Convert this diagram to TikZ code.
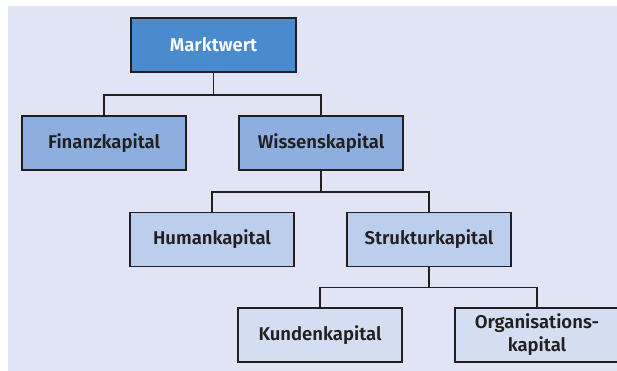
\documentclass[tikz,border=0pt]{standalone}
\usepackage{fontspec}
\setmainfont{Fira Sans}[BoldFont={Fira Sans SemiBold}]
\definecolor{bgpanel}{HTML}{E0E4F4}
\definecolor{lvlA}{HTML}{4A8BCD}
\definecolor{lvlB}{HTML}{8DAEDF}
\definecolor{lvlC}{HTML}{BBCEEC}
\definecolor{lvlD}{HTML}{D3DEF3}
\definecolor{ink}{HTML}{231F20}
\begin{document}
\begin{tikzpicture}[x=1pt,y=-1pt,
  box/.style={draw=ink, line width=1.8pt, minimum width=164pt, minimum height=54pt,
    inner sep=0pt, align=center, font=\fontsize{18.5}{23}\selectfont\bfseries, text=ink},
  conn/.style={draw=ink, line width=1.6pt}]
  \useasboundingbox (0,0) rectangle (617,371);
  \fill[bgpanel] (8,6) rectangle (617,371);
  \begin{scope}
  \clip (0,0) rectangle (617,371);
  % hierarchy of capital components
  \node[box, fill=lvlA, text=white, minimum width=165pt] (mw) at (213.5,45) {Marktwert};
  \node[box, fill=lvlB] (fk) at (104,143) {Finanzkapital};
  \node[box, fill=lvlB] (wk) at (321,143) {Wissenskapital};
  \node[box, fill=lvlC] (hk) at (212,239.5) {Humankapital};
  \node[box, fill=lvlC] (sk) at (429,239.5) {Strukturkapital};
  \node[box, fill=lvlD] (kk) at (320,335) {Kundenkapital};
  \node[box, fill=lvlD] (ok) at (537,335) {Organisations-\\kapital};
  % tree connectors
  \draw[conn] (mw.south) -- ++(0,22) -| (fk.north);
  \draw[conn] (mw.south) -- ++(0,22) -| (wk.north);
  \draw[conn] (wk.south) -- ++(0,21) -| (hk.north);
  \draw[conn] (wk.south) -- ++(0,21) -| (sk.north);
  \draw[conn] (sk.south) -- ++(0,20) -| (kk.north);
  \draw[conn] (sk.south) -- ++(0,20) -| (ok.north);
  \end{scope}
\end{tikzpicture}
\end{document}
